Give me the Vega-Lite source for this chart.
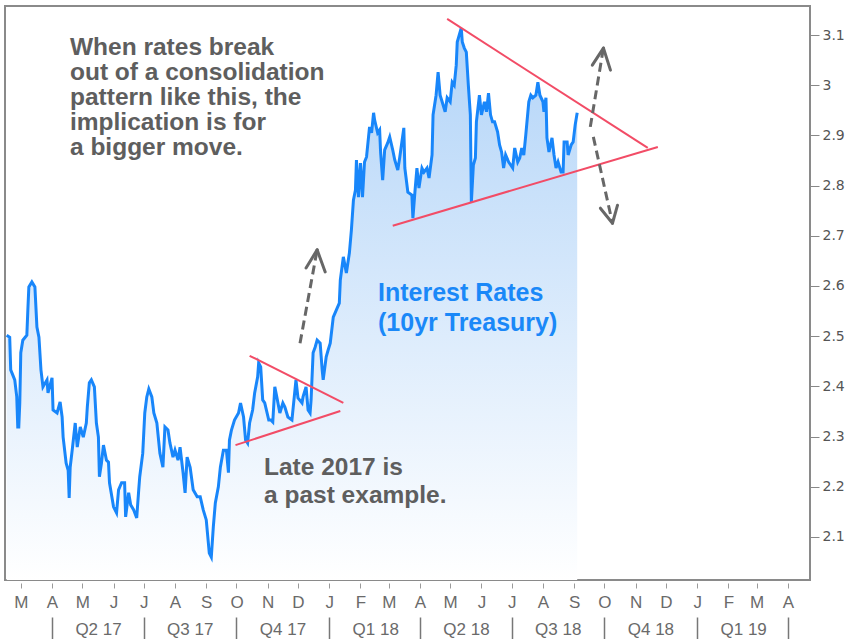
{
  "$schema": "https://vega.github.io/schema/vega-lite/v6.json",
  "width": 805,
  "height": 574,
  "padding": {"left": 0, "top": 6, "right": 0, "bottom": 0},
  "background": "#ffffff",
  "config": {
    "view": {"stroke": "#8a8a8a", "strokeWidth": 2},
    "axis": {"grid": false, "domain": false, "title": null}
  },
  "datasets": {
    "rates": [
      {"d":"2017-02-15","v":2.502},{"d":"2017-02-18","v":2.498},{"d":"2017-02-19","v":2.433},{"d":"2017-02-21","v":2.423},
      {"d":"2017-02-23","v":2.413},{"d":"2017-02-25","v":2.379},{"d":"2017-02-26","v":2.319},{"d":"2017-02-27","v":2.319},
      {"d":"2017-02-28","v":2.367},{"d":"2017-03-01","v":2.467},{"d":"2017-03-03","v":2.492},{"d":"2017-03-07","v":2.502},
      {"d":"2017-03-08","v":2.552},{"d":"2017-03-09","v":2.598},{"d":"2017-03-12","v":2.608},{"d":"2017-03-15","v":2.598},
      {"d":"2017-03-17","v":2.518},{"d":"2017-03-19","v":2.498},{"d":"2017-03-21","v":2.433},{"d":"2017-03-23","v":2.399},
      {"d":"2017-03-27","v":2.413},{"d":"2017-03-28","v":2.387},{"d":"2017-04-01","v":2.417},{"d":"2017-04-02","v":2.353},
      {"d":"2017-04-06","v":2.347},{"d":"2017-04-09","v":2.369},{"d":"2017-04-11","v":2.339},{"d":"2017-04-12","v":2.299},
      {"d":"2017-04-15","v":2.247},{"d":"2017-04-17","v":2.233},{"d":"2017-04-18","v":2.178},{"d":"2017-04-19","v":2.239},
      {"d":"2017-04-21","v":2.273},{"d":"2017-04-24","v":2.327},{"d":"2017-04-26","v":2.279},{"d":"2017-04-29","v":2.319},
      {"d":"2017-05-02","v":2.299},{"d":"2017-05-05","v":2.327},{"d":"2017-05-06","v":2.359},{"d":"2017-05-08","v":2.407},
      {"d":"2017-05-10","v":2.413},{"d":"2017-05-13","v":2.399},{"d":"2017-05-15","v":2.327},{"d":"2017-05-17","v":2.299},
      {"d":"2017-05-18","v":2.220},{"d":"2017-05-20","v":2.247},{"d":"2017-05-22","v":2.283},{"d":"2017-05-25","v":2.253},
      {"d":"2017-05-27","v":2.249},{"d":"2017-05-28","v":2.208},{"d":"2017-06-01","v":2.160},{"d":"2017-06-04","v":2.148},
      {"d":"2017-06-06","v":2.194},{"d":"2017-06-09","v":2.208},{"d":"2017-06-12","v":2.208},{"d":"2017-06-13","v":2.140},
      {"d":"2017-06-16","v":2.188},{"d":"2017-06-18","v":2.164},{"d":"2017-06-21","v":2.154},{"d":"2017-06-24","v":2.138},
      {"d":"2017-06-26","v":2.194},{"d":"2017-06-27","v":2.220},{"d":"2017-06-30","v":2.267},{"d":"2017-07-02","v":2.347},
      {"d":"2017-07-04","v":2.379},{"d":"2017-07-06","v":2.395},{"d":"2017-07-09","v":2.379},{"d":"2017-07-11","v":2.347},
      {"d":"2017-07-14","v":2.327},{"d":"2017-07-17","v":2.267},{"d":"2017-07-20","v":2.239},{"d":"2017-07-22","v":2.319},
      {"d":"2017-07-25","v":2.313},{"d":"2017-07-27","v":2.287},{"d":"2017-07-30","v":2.259},{"d":"2017-08-01","v":2.273},
      {"d":"2017-08-04","v":2.253},{"d":"2017-08-06","v":2.279},{"d":"2017-08-09","v":2.228},{"d":"2017-08-11","v":2.188},
      {"d":"2017-08-13","v":2.259},{"d":"2017-08-16","v":2.239},{"d":"2017-08-19","v":2.194},{"d":"2017-08-23","v":2.180},
      {"d":"2017-08-26","v":2.180},{"d":"2017-08-29","v":2.154},{"d":"2017-09-01","v":2.134},{"d":"2017-09-04","v":2.068},
      {"d":"2017-09-06","v":2.060},{"d":"2017-09-08","v":2.120},{"d":"2017-09-10","v":2.168},{"d":"2017-09-13","v":2.200},
      {"d":"2017-09-15","v":2.239},{"d":"2017-09-18","v":2.273},{"d":"2017-09-21","v":2.273},{"d":"2017-09-23","v":2.228},
      {"d":"2017-09-24","v":2.293},{"d":"2017-09-26","v":2.313},{"d":"2017-09-29","v":2.333},{"d":"2017-10-03","v":2.347},
      {"d":"2017-10-05","v":2.367},{"d":"2017-10-08","v":2.339},{"d":"2017-10-10","v":2.293},{"d":"2017-10-12","v":2.287},
      {"d":"2017-10-14","v":2.327},{"d":"2017-10-17","v":2.353},{"d":"2017-10-19","v":2.387},{"d":"2017-10-22","v":2.419},
      {"d":"2017-10-23","v":2.447},{"d":"2017-10-25","v":2.439},{"d":"2017-10-27","v":2.373},{"d":"2017-10-29","v":2.367},
      {"d":"2017-11-02","v":2.333},{"d":"2017-11-04","v":2.333},{"d":"2017-11-06","v":2.329},{"d":"2017-11-08","v":2.399},
      {"d":"2017-11-10","v":2.379},{"d":"2017-11-13","v":2.347},{"d":"2017-11-16","v":2.367},{"d":"2017-11-18","v":2.359},
      {"d":"2017-11-21","v":2.339},{"d":"2017-11-25","v":2.333},{"d":"2017-11-27","v":2.373},{"d":"2017-11-29","v":2.413},
      {"d":"2017-12-01","v":2.377},{"d":"2017-12-05","v":2.367},{"d":"2017-12-06","v":2.379},{"d":"2017-12-09","v":2.399},
      {"d":"2017-12-11","v":2.353},{"d":"2017-12-13","v":2.347},{"d":"2017-12-14","v":2.373},{"d":"2017-12-16","v":2.467},
      {"d":"2017-12-18","v":2.478},{"d":"2017-12-20","v":2.492},{"d":"2017-12-23","v":2.486},{"d":"2017-12-25","v":2.433},
      {"d":"2017-12-26","v":2.413},{"d":"2017-12-29","v":2.459},{"d":"2017-12-31","v":2.473},{"d":"2018-01-02","v":2.486},
      {"d":"2018-01-05","v":2.538},{"d":"2018-01-08","v":2.552},{"d":"2018-01-11","v":2.566},{"d":"2018-01-12","v":2.612},
      {"d":"2018-01-15","v":2.658},{"d":"2018-01-18","v":2.626},{"d":"2018-01-21","v":2.666},{"d":"2018-01-23","v":2.712},
      {"d":"2018-01-25","v":2.771},{"d":"2018-01-27","v":2.791},{"d":"2018-01-28","v":2.851},{"d":"2018-01-30","v":2.777},
      {"d":"2018-02-01","v":2.845},{"d":"2018-02-03","v":2.777},{"d":"2018-02-05","v":2.847},{"d":"2018-02-07","v":2.857},
      {"d":"2018-02-10","v":2.917},{"d":"2018-02-12","v":2.905},{"d":"2018-02-14","v":2.945},{"d":"2018-02-15","v":2.931},
      {"d":"2018-02-18","v":2.905},{"d":"2018-02-20","v":2.911},{"d":"2018-02-21","v":2.865},{"d":"2018-02-23","v":2.811},
      {"d":"2018-02-25","v":2.871},{"d":"2018-02-28","v":2.885},{"d":"2018-03-02","v":2.897},{"d":"2018-03-05","v":2.871},
      {"d":"2018-03-07","v":2.851},{"d":"2018-03-10","v":2.831},{"d":"2018-03-12","v":2.857},{"d":"2018-03-16","v":2.915},
      {"d":"2018-03-17","v":2.835},{"d":"2018-03-20","v":2.787},{"d":"2018-03-24","v":2.781},{"d":"2018-03-25","v":2.735},
      {"d":"2018-03-27","v":2.787},{"d":"2018-03-29","v":2.835},{"d":"2018-03-31","v":2.795},{"d":"2018-04-03","v":2.835},
      {"d":"2018-04-05","v":2.827},{"d":"2018-04-08","v":2.835},{"d":"2018-04-10","v":2.815},{"d":"2018-04-13","v":2.861},
      {"d":"2018-04-14","v":2.941},{"d":"2018-04-17","v":2.980},{"d":"2018-04-19","v":3.026},{"d":"2018-04-21","v":2.980},
      {"d":"2018-04-23","v":2.967},{"d":"2018-04-26","v":2.947},{"d":"2018-04-28","v":2.975},{"d":"2018-05-01","v":2.967},
      {"d":"2018-05-03","v":3.006},{"d":"2018-05-05","v":3.000},{"d":"2018-05-07","v":3.040},{"d":"2018-05-08","v":3.086},
      {"d":"2018-05-10","v":3.100},{"d":"2018-05-12","v":3.114},{"d":"2018-05-13","v":3.086},{"d":"2018-05-15","v":3.074},
      {"d":"2018-05-17","v":3.066},{"d":"2018-05-19","v":3.000},{"d":"2018-05-21","v":2.941},{"d":"2018-05-22","v":2.767},
      {"d":"2018-05-24","v":2.841},{"d":"2018-05-26","v":2.855},{"d":"2018-05-27","v":2.927},{"d":"2018-05-30","v":2.980},
      {"d":"2018-06-01","v":2.941},{"d":"2018-06-04","v":2.967},{"d":"2018-06-06","v":2.947},{"d":"2018-06-08","v":2.984},
      {"d":"2018-06-10","v":2.941},{"d":"2018-06-12","v":2.927},{"d":"2018-06-14","v":2.927},{"d":"2018-06-17","v":2.907},
      {"d":"2018-06-19","v":2.881},{"d":"2018-06-21","v":2.867},{"d":"2018-06-23","v":2.835},{"d":"2018-06-25","v":2.861},
      {"d":"2018-06-28","v":2.847},{"d":"2018-06-30","v":2.841},{"d":"2018-07-02","v":2.835},{"d":"2018-07-04","v":2.875},
      {"d":"2018-07-07","v":2.847},{"d":"2018-07-09","v":2.855},{"d":"2018-07-11","v":2.875},{"d":"2018-07-13","v":2.861},
      {"d":"2018-07-15","v":2.901},{"d":"2018-07-18","v":2.967},{"d":"2018-07-20","v":2.980},{"d":"2018-07-22","v":2.975},
      {"d":"2018-07-25","v":2.980},{"d":"2018-07-27","v":3.006},{"d":"2018-07-29","v":2.980},{"d":"2018-08-01","v":2.967},
      {"d":"2018-08-02","v":2.947},{"d":"2018-08-04","v":2.975},{"d":"2018-08-05","v":2.895},{"d":"2018-08-07","v":2.867},
      {"d":"2018-08-10","v":2.895},{"d":"2018-08-12","v":2.861},{"d":"2018-08-14","v":2.835},{"d":"2018-08-16","v":2.847},
      {"d":"2018-08-19","v":2.827},{"d":"2018-08-21","v":2.827},{"d":"2018-08-22","v":2.887},{"d":"2018-08-25","v":2.887},
      {"d":"2018-08-26","v":2.861},{"d":"2018-08-29","v":2.881},{"d":"2018-08-31","v":2.887},{"d":"2018-09-02","v":2.921},
      {"d":"2018-09-04","v":2.945}
    ],
    "triangles": [
      {"d":"2017-10-14","v":2.461,"d2":"2018-01-15","v2":2.367},
      {"d":"2017-09-30","v":2.283,"d2":"2018-01-12","v2":2.351},
      {"d":"2018-04-28","v":3.132,"d2":"2018-11-13","v2":2.875},
      {"d":"2018-03-05","v":2.720,"d2":"2018-11-23","v2":2.877}
    ],
    "shafts": [
      {"d":"2017-12-03","v":2.486,"d2":"2017-12-20","v2":2.672},
      {"d":"2018-09-17","v":2.917,"d2":"2018-09-30","v2":3.074},
      {"d":"2018-09-20","v":2.897,"d2":"2018-10-09","v2":2.725}
    ],
    "heads": [
      {"d":"2017-12-20","v":2.672,"d2":"2017-12-09","v2":2.636},
      {"d":"2017-12-20","v":2.672,"d2":"2017-12-28","v2":2.628},
      {"d":"2018-09-30","v":3.074,"d2":"2018-09-19","v2":3.040},
      {"d":"2018-09-30","v":3.074,"d2":"2018-10-07","v2":3.030},
      {"d":"2018-10-09","v":2.725,"d2":"2018-09-27","v2":2.755},
      {"d":"2018-10-09","v":2.725,"d2":"2018-10-14","v2":2.761}
    ]
  },
  "encoding": {
    "x": {
      "field": "d", "type": "temporal",
      "scale": {
        "type": "utc",
        "domain": [
          {"year": 2017, "month": 2, "date": 13, "hours": 8, "utc": true},
          {"year": 2019, "month": 4, "date": 22, "hours": 23, "utc": true}
        ]
      },
      "axis": null
    },
    "y": {
      "field": "v", "type": "quantitative",
      "scale": {"domain": [2.0143, 3.1578], "zero": false, "nice": false},
      "axis": {
        "orient": "right",
        "title": null,
        "values": [2.1, 2.2, 2.3, 2.4, 2.5, 2.6, 2.7, 2.8, 2.9, 3, 3.1],
        "format": "~g",
        "tickSize": 9,
        "tickColor": "#888888",
        "labelFont": "DejaVu Sans",
        "labelFontSize": 14,
        "labelColor": "#555555",
        "labelPadding": 3
      }
    }
  },
  "layer": [
    {
      "data": {"name": "rates"},
      "mark": {
        "type": "area",
        "color": {
          "x1": 0, "y1": 0, "x2": 0, "y2": 1,
          "gradient": "linear",
          "stops": [
            {"offset": 0, "color": "#b2d4f8"},
            {"offset": 1, "color": "#ffffff"}
          ]
        }
      },
      "encoding": {
        "x": {
          "field": "d", "type": "temporal",
          "axis": {
            "orient": "bottom",
            "offset": 3,
            "values": [
              {"year":2017,"month":3,"date":1,"utc":true},{"year":2017,"month":4,"date":1,"utc":true},
              {"year":2017,"month":5,"date":1,"utc":true},{"year":2017,"month":6,"date":1,"utc":true},
              {"year":2017,"month":7,"date":1,"utc":true},{"year":2017,"month":8,"date":1,"utc":true},
              {"year":2017,"month":9,"date":1,"utc":true},{"year":2017,"month":10,"date":1,"utc":true},
              {"year":2017,"month":11,"date":1,"utc":true},{"year":2017,"month":12,"date":1,"utc":true},
              {"year":2018,"month":1,"date":1,"utc":true},{"year":2018,"month":2,"date":1,"utc":true},
              {"year":2018,"month":3,"date":1,"utc":true},{"year":2018,"month":4,"date":1,"utc":true},
              {"year":2018,"month":5,"date":1,"utc":true},{"year":2018,"month":6,"date":1,"utc":true},
              {"year":2018,"month":7,"date":1,"utc":true},{"year":2018,"month":8,"date":1,"utc":true},
              {"year":2018,"month":9,"date":1,"utc":true},{"year":2018,"month":10,"date":1,"utc":true},
              {"year":2018,"month":11,"date":1,"utc":true},{"year":2018,"month":12,"date":1,"utc":true},
              {"year":2019,"month":1,"date":1,"utc":true},{"year":2019,"month":2,"date":1,"utc":true},
              {"year":2019,"month":3,"date":1,"utc":true},{"year":2019,"month":4,"date":1,"utc":true}
            ],
            "labelExpr": "slice(utcFormat(datum.value, '%b'), 0, 1)",
            "tickSize": 5,
            "tickColor": "#9a9a9a",
            "labelFont": "Liberation Sans",
            "labelFontSize": 17,
            "labelColor": "#6a6a6a",
            "labelPadding": 6,
            "labelOverlap": false,
            "labelBound": false,
            "labelFlush": false
          }
        },
        "y2": {"datum": 2.0143}
      }
    },
    {
      "data": {"name": "rates"},
      "mark": {"type": "line", "color": "#1886fa", "strokeWidth": 3},
      "encoding": {
        "x": {
          "field": "d", "type": "temporal",
          "axis": {
            "orient": "bottom",
            "offset": 37,
            "values": [
              {"year":2017,"month":4,"date":1,"utc":true},{"year":2017,"month":7,"date":1,"utc":true},
              {"year":2017,"month":10,"date":1,"utc":true},{"year":2018,"month":1,"date":1,"utc":true},
              {"year":2018,"month":4,"date":1,"utc":true},{"year":2018,"month":7,"date":1,"utc":true},
              {"year":2018,"month":10,"date":1,"utc":true},{"year":2019,"month":1,"date":1,"utc":true},
              {"year":2019,"month":4,"date":1,"utc":true}
            ],
            "labelExpr": "(utcyear(datum.value) == 2019 && utcmonth(datum.value) == 3) ? '' : 'Q' + utcquarter(datum.value) + ' ' + utcFormat(datum.value, '%y')",
            "tickSize": 22,
            "tickWidth": 1.5,
            "tickColor": "#777777",
            "labelOffset": 46,
            "labelPadding": -18,
            "labelFont": "Liberation Sans",
            "labelFontSize": 17,
            "labelColor": "#6a6a6a",
            "labelOverlap": false,
            "labelBound": false,
            "labelFlush": false
          }
        }
      }
    },
    {
      "data": {"name": "triangles"},
      "mark": {"type": "rule", "color": "#f24c66", "strokeWidth": 2},
      "encoding": {
        "x2": {"field": "d2"},
        "y2": {"field": "v2"}
      }
    },
    {
      "data": {"name": "shafts"},
      "mark": {"type": "rule", "color": "#676767", "strokeWidth": 3, "strokeDash": [9, 5]},
      "encoding": {
        "x2": {"field": "d2"},
        "y2": {"field": "v2"}
      }
    },
    {
      "data": {"name": "heads"},
      "mark": {"type": "rule", "color": "#676767", "strokeWidth": 3, "strokeCap": "round"},
      "encoding": {
        "x2": {"field": "d2"},
        "y2": {"field": "v2"}
      }
    },
    {
      "data": {"values": [{"d": "2017-04-18T19:00:00Z", "v": 3.06, "t": "When rates break\nout of a consolidation\npattern like this, the\nimplication is for\na bigger move."}]},
      "mark": {"type": "text", "align": "left", "baseline": "alphabetic", "lineBreak": "\n", "lineHeight": 25, "font": "Liberation Sans", "fontWeight": "bold", "fontSize": 24.5, "color": "#5e5e5e"},
      "encoding": {
        "text": {"field": "t"}
      }
    },
    {
      "data": {"values": [{"d": "2017-10-28T07:00:00Z", "v": 2.2235, "t": "Late 2017 is\na past example."}]},
      "mark": {"type": "text", "align": "left", "baseline": "alphabetic", "lineBreak": "\n", "lineHeight": 28, "font": "Liberation Sans", "fontWeight": "bold", "fontSize": 24.5, "color": "#5e5e5e"},
      "encoding": {
        "text": {"field": "t"}
      }
    },
    {
      "data": {"values": [{"d": "2018-02-18T10:00:00Z", "v": 2.57, "t": "Interest Rates\n(10yr Treasury)"}]},
      "mark": {"type": "text", "align": "left", "baseline": "alphabetic", "lineBreak": "\n", "lineHeight": 30, "font": "Liberation Sans", "fontWeight": "bold", "fontSize": 25, "color": "#1a88f8"},
      "encoding": {
        "text": {"field": "t"}
      }
    }
  ],
  "resolve": {"axis": {"x": "independent"}}
}
